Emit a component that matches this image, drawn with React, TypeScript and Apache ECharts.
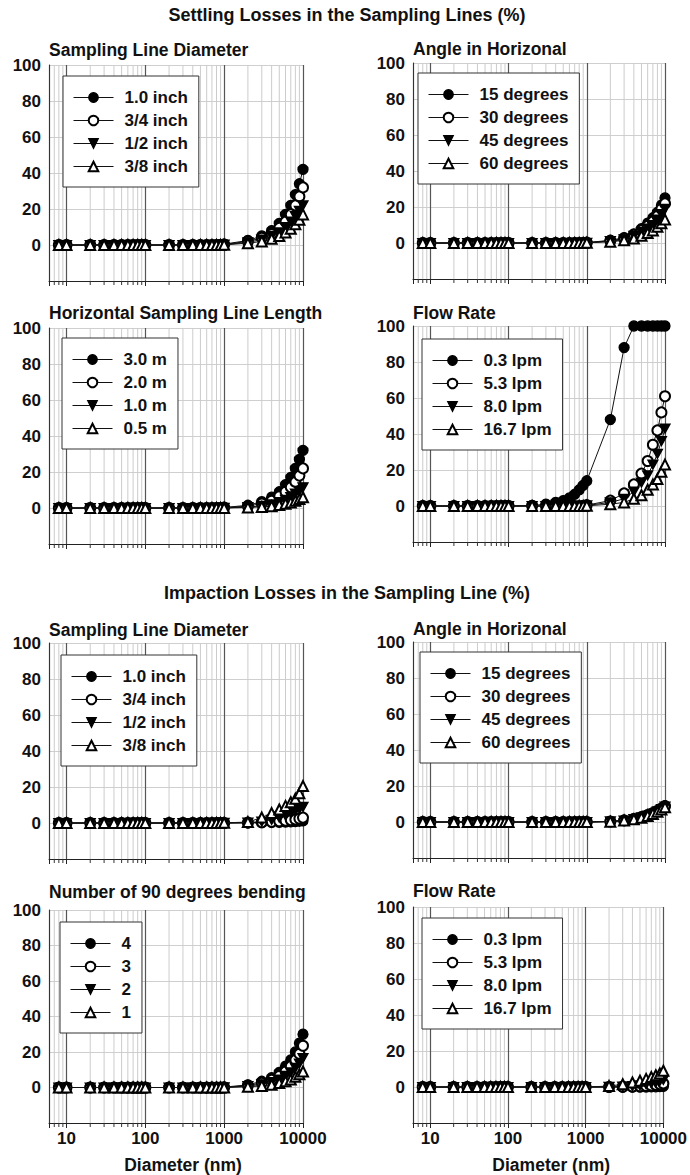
import React, { useEffect, useRef } from "react";
import * as echarts from "echarts";

// ---------- data ----------
const diameters = [8, 10, 20, 30, 40, 50, 60, 70, 80, 90, 100, 200, 300, 400, 500, 600, 700, 800, 900, 1000, 2000, 3000, 4000, 5000, 6000, 7000, 8000, 9000, 10000];
const minorDiameters = [7, 8, 9, 20, 30, 40, 50, 60, 70, 80, 90, 200, 300, 400, 500, 600, 700, 800, 900, 2000, 3000, 4000, 5000, 6000, 7000, 8000, 9000];
const xLabelValues = [10, 100, 1000, 10000];

const mainTitles = ["Settling Losses in the Sampling Lines (%)", "Impaction Losses in the Sampling Line (%)"];
const panelTitles = [
  "Sampling Line Diameter",
  "Angle in Horizonal",
  "Horizontal Sampling Line Length",
  "Flow Rate",
  "Sampling Line Diameter",
  "Angle in Horizonal",
  "Number of 90 degrees bending",
  "Flow Rate",
];
const diameterNames = ["1.0 inch", "3/4 inch", "1/2 inch", "3/8 inch"];
const angleNames = ["15 degrees", "30 degrees", "45 degrees", "60 degrees"];
const lengthNames = ["3.0 m", "2.0 m", "1.0 m", "0.5 m"];
const flowNames = ["0.3 lpm", "5.3 lpm", "8.0 lpm", "16.7 lpm"];
const bendNames = ["4", "3", "2", "1"];

// Settling losses
const setDia10 = [0, 0, 0, 0, 0, 0, 0, 0, 0, 0, 0, 0, 0, 0, 0, 0, 0, 0, 0, 0.5, 2.5, 5, 8, 12, 17, 22, 28, 34, 42];
const setDia075 = [0, 0, 0, 0, 0, 0, 0, 0, 0, 0, 0, 0, 0, 0, 0, 0, 0, 0, 0, 0.3, 2, 4, 6, 9.5, 13, 17, 22, 27, 32];
const setDia050 = [0, 0, 0, 0, 0, 0, 0, 0, 0, 0, 0, 0, 0, 0, 0, 0, 0, 0, 0, 0.2, 1.5, 3, 5, 7, 10, 13, 16, 19, 22];
const setDia0375 = [0, 0, 0, 0, 0, 0, 0, 0, 0, 0, 0, 0, 0, 0, 0, 0, 0, 0, 0, 0.1, 1, 2, 3.5, 5, 7, 9, 11.5, 14, 17];

const setAng15 = [0, 0, 0, 0, 0, 0, 0, 0, 0, 0, 0, 0, 0, 0, 0, 0, 0, 0, 0, 0.2, 1.5, 3, 5, 8, 11, 14, 17, 21, 25];
const setAng30 = [0, 0, 0, 0, 0, 0, 0, 0, 0, 0, 0, 0, 0, 0, 0, 0, 0, 0, 0, 0.2, 1.2, 2.5, 4.5, 7, 9.5, 12, 15, 19, 22];
const setAng45 = [0, 0, 0, 0, 0, 0, 0, 0, 0, 0, 0, 0, 0, 0, 0, 0, 0, 0, 0, 0.1, 1, 2, 4, 6, 8, 10, 13, 16, 19];
const setAng60 = [0, 0, 0, 0, 0, 0, 0, 0, 0, 0, 0, 0, 0, 0, 0, 0, 0, 0, 0, 0.1, 0.7, 1.5, 2.5, 4, 5.5, 7, 9, 11, 13];

const setLen3 = [0, 0, 0, 0, 0, 0, 0, 0, 0, 0, 0, 0, 0, 0, 0, 0, 0, 0, 0, 0.3, 1.5, 3.5, 6, 9, 13, 17, 22, 27, 32];
const setLen2 = [0, 0, 0, 0, 0, 0, 0, 0, 0, 0, 0, 0, 0, 0, 0, 0, 0, 0, 0, 0.2, 1, 2.5, 4, 6.5, 9, 11.5, 14.5, 18, 22];
const setLen1 = [0, 0, 0, 0, 0, 0, 0, 0, 0, 0, 0, 0, 0, 0, 0, 0, 0, 0, 0, 0.1, 0.5, 1.2, 2, 3.3, 4.5, 6, 8, 9.5, 11.5];
const setLen05 = [0, 0, 0, 0, 0, 0, 0, 0, 0, 0, 0, 0, 0, 0, 0, 0, 0, 0, 0, 0, 0.3, 0.6, 1, 1.7, 2.3, 3, 4, 5, 6];

const setFlow03 = [0, 0, 0, 0, 0, 0, 0, 0, 0, 0, 0, 0.3, 1, 2, 3, 4.5, 6.5, 9, 11.5, 14, 48, 88, 100, 100, 100, 100, 100, 100, 100];
const setFlow53 = [0, 0, 0, 0, 0, 0, 0, 0, 0, 0, 0, 0, 0, 0, 0, 0, 0, 0, 0, 0.5, 3, 7, 12, 18, 25, 34, 42, 52, 61];
const setFlow80 = [0, 0, 0, 0, 0, 0, 0, 0, 0, 0, 0, 0, 0, 0, 0, 0, 0, 0, 0, 0.3, 2, 4, 8, 13, 17, 23, 29, 36, 43];
const setFlow167 = [0, 0, 0, 0, 0, 0, 0, 0, 0, 0, 0, 0, 0, 0, 0, 0, 0, 0, 0, 0.1, 1, 2, 4, 6, 9, 12, 15, 19, 23];

// Impaction losses
const impDia10 = [0, 0, 0, 0, 0, 0, 0, 0, 0, 0, 0, 0, 0, 0, 0, 0, 0, 0, 0, 0, 0.1, 0.2, 0.3, 0.4, 0.5, 0.7, 0.8, 1, 1.2];
const impDia075 = [0, 0, 0, 0, 0, 0, 0, 0, 0, 0, 0, 0, 0, 0, 0, 0, 0, 0, 0, 0, 0.2, 0.4, 0.7, 1, 1.3, 1.6, 2, 2.5, 3];
const impDia050 = [0, 0, 0, 0, 0, 0, 0, 0, 0, 0, 0, 0, 0, 0, 0, 0, 0, 0, 0, 0.1, 0.2, 0.8, 1.8, 3, 4.2, 5.5, 6.7, 7.8, 9];
const impDia0375 = [0, 0, 0, 0, 0, 0, 0, 0, 0, 0, 0, 0, 0, 0, 0, 0, 0, 0, 0, 0.1, 0.5, 3, 5.5, 7.5, 9.5, 11.5, 13.5, 16.5, 20.5];

const impAng15 = [0, 0, 0, 0, 0, 0, 0, 0, 0, 0, 0, 0, 0, 0, 0, 0, 0, 0, 0, 0, 0.3, 0.9, 1.8, 2.8, 3.9, 5, 6.3, 7.6, 9];
const impAng30 = [0, 0, 0, 0, 0, 0, 0, 0, 0, 0, 0, 0, 0, 0, 0, 0, 0, 0, 0, 0, 0.3, 0.9, 1.7, 2.7, 3.8, 4.9, 6.1, 7.4, 8.8];
const impAng45 = [0, 0, 0, 0, 0, 0, 0, 0, 0, 0, 0, 0, 0, 0, 0, 0, 0, 0, 0, 0, 0.3, 0.8, 1.6, 2.6, 3.6, 4.7, 5.9, 7.2, 8.5];
const impAng60 = [0, 0, 0, 0, 0, 0, 0, 0, 0, 0, 0, 0, 0, 0, 0, 0, 0, 0, 0, 0, 0.2, 0.8, 1.5, 2.4, 3.4, 4.5, 5.7, 7, 8.2];

const impBend4 = [0, 0, 0, 0, 0, 0, 0, 0, 0, 0, 0, 0, 0, 0, 0, 0, 0, 0, 0, 0.2, 1.5, 3.5, 5.5, 8.5, 12, 15.5, 20, 25, 30];
const impBend3 = [0, 0, 0, 0, 0, 0, 0, 0, 0, 0, 0, 0, 0, 0, 0, 0, 0, 0, 0, 0.1, 1.1, 2.6, 4.3, 6.5, 9, 12, 15.5, 19, 23.5];
const impBend2 = [0, 0, 0, 0, 0, 0, 0, 0, 0, 0, 0, 0, 0, 0, 0, 0, 0, 0, 0, 0.1, 0.8, 1.8, 3, 4.5, 6.5, 8.5, 11, 13.5, 16.5];
const impBend1 = [0, 0, 0, 0, 0, 0, 0, 0, 0, 0, 0, 0, 0, 0, 0, 0, 0, 0, 0, 0, 0.4, 0.9, 1.5, 2.5, 3.5, 4.5, 6, 7.5, 9];

const impFlow03 = [0, 0, 0, 0, 0, 0, 0, 0, 0, 0, 0, 0, 0, 0, 0, 0, 0, 0, 0, 0, 0, 0, 0, 0, 0, 0.1, 0.1, 0.2, 0.3];
const impFlow53 = [0, 0, 0, 0, 0, 0, 0, 0, 0, 0, 0, 0, 0, 0, 0, 0, 0, 0, 0, 0, 0, 0.1, 0.2, 0.4, 0.6, 0.9, 1.2, 1.6, 2];
const impFlow80 = [0, 0, 0, 0, 0, 0, 0, 0, 0, 0, 0, 0, 0, 0, 0, 0, 0, 0, 0, 0, 0.1, 0.2, 0.5, 0.9, 1.4, 2, 2.6, 3.3, 4];
const impFlow167 = [0, 0, 0, 0, 0, 0, 0, 0, 0, 0, 0, 0, 0, 0, 0, 0, 0, 0, 0, 0, 0.5, 1.5, 2.5, 3.5, 4.5, 5.5, 6.5, 7.5, 9];

const panelNames = [diameterNames, angleNames, lengthNames, flowNames, diameterNames, angleNames, bendNames, flowNames];
const panelValues = [
  [setDia10, setDia075, setDia050, setDia0375],
  [setAng15, setAng30, setAng45, setAng60],
  [setLen3, setLen2, setLen1, setLen05],
  [setFlow03, setFlow53, setFlow80, setFlow167],
  [impDia10, impDia075, impDia050, impDia0375],
  [impAng15, impAng30, impAng45, impAng60],
  [impBend4, impBend3, impBend2, impBend1],
  [impFlow03, impFlow53, impFlow80, impFlow167],
];

// ---------- layout / style ----------
const FONT = "'Liberation Sans', Arial, Helvetica, sans-serif";
const layout = [
  { left: 49, width: 254, top: 65, titleY: 50, legLeft: 63, legTop: 76 },
  { left: 413, width: 252, top: 63, titleY: 49, legLeft: 418, legTop: 73 },
  { left: 49, width: 254, top: 328, titleY: 313, legLeft: 62, legTop: 338 },
  { left: 413, width: 252, top: 326, titleY: 313, legLeft: 422, legTop: 339 },
  { left: 49, width: 254, top: 643, titleY: 630, legLeft: 61, legTop: 655 },
  { left: 413, width: 252, top: 642, titleY: 629, legLeft: 420, legTop: 652 },
  { left: 49, width: 254, top: 910, titleY: 892, legLeft: 60, legTop: 922 },
  { left: 413, width: 252, top: 907, titleY: 891, legLeft: 422, legTop: 918 },
];
const GRID_H = 216;
const symbols = ["circle", "emptyCircle", "path://M0,0L10,0L5,9Z", "emptyTriangle"];

function isPow10(v: number) {
  const l = Math.log10(v);
  return Math.abs(l - Math.round(l)) < 1e-6;
}

function buildOption() {
  const grid: any[] = [];
  const xAxis: any[] = [];
  const yAxis: any[] = [];
  const series: any[] = [];
  const legend: any[] = [];
  const graphic: any[] = [];

  graphic.push({
    type: "text", x: 347, y: 15,
    style: { text: mainTitles[0], fill: "#111", font: `bold 18px ${FONT}`, align: "center", verticalAlign: "middle" },
  });
  graphic.push({
    type: "text", x: 347, y: 593,
    style: { text: mainTitles[1], fill: "#111", font: `bold 18px ${FONT}`, align: "center", verticalAlign: "middle" },
  });

  layout.forEach((L, i) => {
    const bottomRow = i >= 6;
    grid.push({ left: L.left, top: L.top, width: L.width, height: GRID_H, show: false });
    graphic.push({
      type: "text", x: L.left, y: L.titleY,
      style: { text: panelTitles[i], fill: "#111", font: `bold 17.5px ${FONT}`, align: "left", verticalAlign: "middle" },
    });
    xAxis.push({
      type: "log",
      logBase: 10,
      gridIndex: i,
      min: 6,
      max: 10000,
      axisLine: { show: true, onZero: false, lineStyle: { color: "#222", width: 1 } },
      axisTick: { show: true, length: 5, lineStyle: { color: "#222" } },
      splitLine: { show: true, lineStyle: { color: "#555", width: 1.2 } },
      axisLabel: {
        show: bottomRow,
        margin: 7,
        fontSize: 17,
        fontWeight: "bold",
        fontFamily: FONT,
        color: "#111",
        formatter: (v: number) => (isPow10(v) && xLabelValues.includes(Math.round(v)) ? String(Math.round(v)) : ""),
      },
      name: bottomRow ? "Diameter (nm)" : "",
      nameLocation: "middle",
      nameGap: 33,
      nameTextStyle: {
        fontSize: 17.5,
        fontWeight: "bold",
        fontFamily: FONT,
        color: "#111",
        padding: i === 6 ? [0, 0, 0, 14] : [0, 0, 0, 26],
      },
    });
    yAxis.push({
      type: "value",
      gridIndex: i,
      min: -20,
      max: 100,
      interval: 20,
      axisLine: { show: true, lineStyle: { color: "#333", width: 1 } },
      axisTick: { show: false },
      splitLine: { show: true, lineStyle: { color: "#cfcfcf", width: 1 } },
      axisLabel: {
        margin: 8,
        fontSize: 17,
        fontWeight: "bold",
        fontFamily: FONT,
        color: "#111",
        formatter: (v: number) => (v < 0 ? "" : String(v)),
      },
    });

    // minor (2..9) log grid lines and ticks
    series.push({
      type: "custom",
      name: "minor" + i,
      xAxisIndex: i,
      yAxisIndex: i,
      silent: true,
      z: 1,
      data: minorDiameters.map((d) => [d, 0]),
      encode: { x: 0, y: 1 },
      renderItem: (params: any, api: any) => {
        const v = api.value(0);
        const top = api.coord([v, 100]);
        const bot = api.coord([v, -20]);
        return {
          type: "group",
          children: [
            { type: "line", shape: { x1: top[0], y1: top[1], x2: bot[0], y2: bot[1] }, style: { stroke: "#cccccc", lineWidth: 1 } },
            { type: "line", shape: { x1: bot[0], y1: bot[1], x2: bot[0], y2: bot[1] + 4 }, style: { stroke: "#333", lineWidth: 1 } },
          ],
        };
      },
    });

    panelNames[i].forEach((name, j) => {
      const vals = panelValues[i][j];
      series.push({
        type: "line",
        name,
        xAxisIndex: i,
        yAxisIndex: i,
        data: diameters.map((d, k) => [d, vals[k]]),
        symbol: symbols[j],
        symbolSize: j === 2 ? [10, 9] : 10,
        showSymbol: true,
        showAllSymbol: true,
        itemStyle: { color: "#000", borderColor: "#000", borderWidth: 1.3 },
        lineStyle: { color: "#111", width: 1 },
        z: 3 + j,
      });
    });

    legend.push({
      orient: "vertical",
      left: L.legLeft,
      top: L.legTop,
      data: panelNames[i],
      itemWidth: 40,
      itemHeight: 12,
      itemGap: 6,
      padding: [13, 11, 12, 10],
      borderColor: "#333",
      borderWidth: 1,
      borderRadius: 0,
      backgroundColor: "#fff",
      selectedMode: false,
      z: 10,
      lineStyle: { width: 1 },
      itemStyle: { borderWidth: 1.2 },
      textStyle: {
        fontSize: 17,
        fontWeight: "bold",
        fontFamily: FONT,
        color: "#111",
        padding: [0, 0, 0, 6],
      },
    });
  });

  return {
    animation: false,
    backgroundColor: "#fff",
    grid,
    xAxis,
    yAxis,
    series,
    legend,
    graphic,
  };
}

export default function App() {
  const ref = useRef<HTMLDivElement>(null);
  useEffect(() => {
    if (!ref.current) return;
    const chart = echarts.init(ref.current, undefined, { renderer: "svg" });
    chart.setOption(buildOption() as any);
    return () => chart.dispose();
  }, []);
  return (
    <div
      ref={ref}
      style={{ position: "absolute", left: 0, top: 0, width: 690, height: 1175, background: "#fff" }}
    />
  );
}
